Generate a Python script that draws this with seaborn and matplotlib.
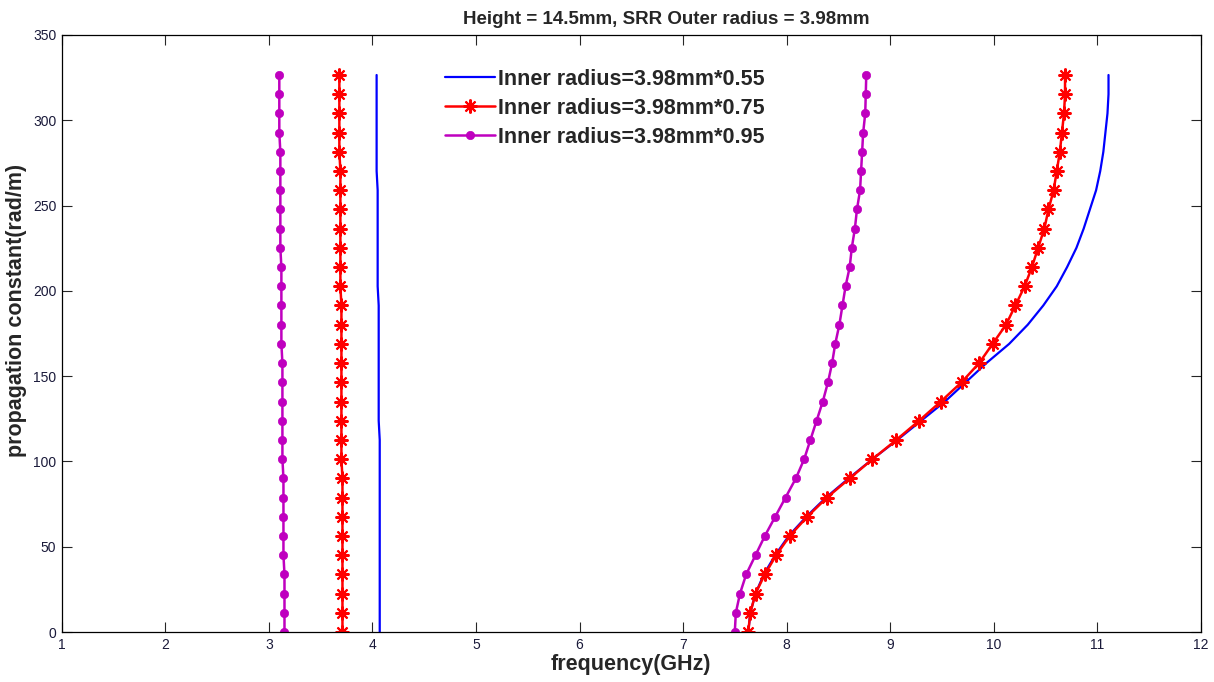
import numpy as np
import pandas as pd
import matplotlib
matplotlib.use('Agg')
import matplotlib.pyplot as plt
import seaborn as sns

# propagation constant grid (rad/m), 30 samples
beta = [0, 11.26, 22.52, 33.78, 45.04, 56.3, 67.56, 78.82, 90.08, 101.34,
        112.6, 123.86, 135.12, 146.38, 157.64, 168.9, 180.16, 191.42, 202.68, 213.94,
        225.2, 236.46, 247.72, 258.98, 270.24, 281.5, 292.76, 304.02, 315.28, 326.54]

# frequency (GHz) per branch, bottom -> top
f055_low = [4.07, 4.07, 4.07, 4.07, 4.07, 4.07, 4.07, 4.07, 4.07, 4.07,
            4.07, 4.06, 4.06, 4.06, 4.06, 4.06, 4.06, 4.06, 4.05, 4.05,
            4.05, 4.05, 4.05, 4.05, 4.04, 4.04, 4.04, 4.04, 4.04, 4.04]
f055_up = [7.63, 7.65, 7.70, 7.78, 7.89, 8.02, 8.19, 8.38, 8.60, 8.83,
           9.07, 9.30, 9.53, 9.73, 9.93, 10.15, 10.33, 10.48, 10.61, 10.71,
           10.80, 10.87, 10.93, 10.99, 11.03, 11.06, 11.08, 11.10, 11.11, 11.11]
f075_low = [3.71, 3.71, 3.71, 3.71, 3.71, 3.71, 3.71, 3.71, 3.71, 3.70,
            3.70, 3.70, 3.70, 3.70, 3.70, 3.70, 3.70, 3.70, 3.69, 3.69,
            3.69, 3.69, 3.69, 3.69, 3.69, 3.68, 3.68, 3.68, 3.68, 3.68]
f075_up = [7.63, 7.65, 7.70, 7.79, 7.90, 8.03, 8.20, 8.39, 8.61, 8.83,
           9.06, 9.28, 9.49, 9.69, 9.86, 9.99, 10.12, 10.21, 10.30, 10.37,
           10.43, 10.49, 10.53, 10.58, 10.61, 10.64, 10.66, 10.68, 10.69, 10.69]
f095_low = [3.15, 3.15, 3.15, 3.15, 3.14, 3.14, 3.14, 3.14, 3.14, 3.13,
            3.13, 3.13, 3.13, 3.13, 3.13, 3.12, 3.12, 3.12, 3.12, 3.12,
            3.11, 3.11, 3.11, 3.11, 3.11, 3.11, 3.10, 3.10, 3.10, 3.10]
f095_up = [7.50, 7.51, 7.55, 7.61, 7.70, 7.79, 7.89, 7.99, 8.09, 8.17,
           8.23, 8.29, 8.35, 8.40, 8.44, 8.47, 8.51, 8.54, 8.57, 8.61,
           8.63, 8.66, 8.68, 8.71, 8.72, 8.73, 8.74, 8.76, 8.765, 8.77]

labels = ['Inner radius=3.98mm*0.55', 'Inner radius=3.98mm*0.75', 'Inner radius=3.98mm*0.95']

sns.set_style('white')
plt.rcParams['font.family'] = ['Liberation Sans', 'DejaVu Sans']

fig = plt.figure(figsize=(12.14, 6.82), dpi=100)
ax = fig.add_axes([0.051, 0.0733, 0.938, 0.8754])

styles = [
    dict(color='#0000ff', linewidth=1.6, linestyle='-', marker=None),
    dict(color='#ff0000', linewidth=1.8, linestyle='-', marker=(8, 2, 0), markersize=10,
         markeredgewidth=1.5, markeredgecolor='#ff0000'),
    dict(color='#bf00bf', linewidth=1.8, linestyle='-', marker='o', markersize=6,
         markeredgewidth=0.5, markeredgecolor='#bf00bf'),
]
branches = [(f055_low, f055_up), (f075_low, f075_up), (f095_low, f095_up)]

for (low, up), lab, st in zip(branches, labels, styles):
    df_low = pd.DataFrame({'freq': low, 'beta': beta})
    df_up = pd.DataFrame({'freq': up, 'beta': beta})
    sns.lineplot(data=df_low, x='freq', y='beta', sort=False, estimator=None,
                 ax=ax, label='_nolegend_', **st)
    sns.lineplot(data=df_up, x='freq', y='beta', sort=False, estimator=None,
                 ax=ax, label=lab, **st)

ax.set_xlim(1, 12)
ax.set_ylim(0, 350)
ax.set_xticks(range(1, 13))
ax.set_yticks(range(0, 351, 50))
ax.tick_params(direction='in', length=7, width=0.8, labelsize=10, pad=4,
               labelcolor='#1a1a3a', top=True, right=True, bottom=True, left=True)
for s in ax.spines.values():
    s.set_color('black')
    s.set_linewidth(0.9)

ax.set_title('Height = 14.5mm, SRR Outer radius = 3.98mm', fontsize=13.5, fontweight='bold',
             pad=8, x=0.531)
ax.set_xlabel('frequency(GHz)', fontsize=15.5, fontweight='bold', labelpad=2)
ax.set_ylabel('propagation constant(rad/m)', fontsize=15.5, fontweight='bold')
ax.yaxis.set_label_coords(-0.031, 0.538)

leg = ax.legend(loc='upper left', bbox_to_anchor=(0.329, 0.958), frameon=False,
                prop={'size': 15.5, 'weight': 'bold'}, handlelength=2.3,
                handletextpad=0.15, labelspacing=0.38, borderaxespad=0)

fig.savefig('out.png', dpi=100)
